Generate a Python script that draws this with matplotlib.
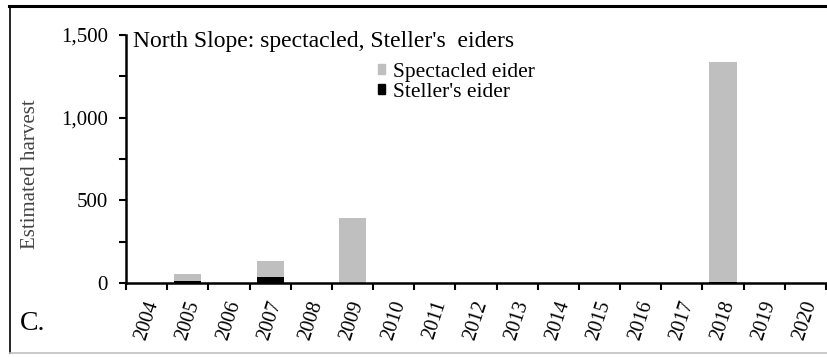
import matplotlib
matplotlib.use("Agg")
import matplotlib.pyplot as plt
import numpy as np
from matplotlib.ticker import FuncFormatter, MultipleLocator
from matplotlib.lines import Line2D

years = [str(y) for y in range(2004, 2021)]
stellers = [0, 14, 0, 38, 0, 0, 0, 0, 0, 0, 0, 0, 0, 0, 8, 0, 0]
spectacled = [0, 40, 0, 95, 0, 395, 0, 0, 0, 0, 0, 0, 0, 0, 1330, 0, 0]

plt.rcParams['font.family'] = ['Liberation Serif', 'DejaVu Serif']

fig = plt.figure(figsize=(8.27, 3.57), dpi=100)
W, H = 827, 357
ax = fig.add_axes([126 / W, 1 - 283 / H, 700 / W, 248 / H])

x = np.arange(len(years))
ax.bar(x, stellers, width=0.66, color='black', label="Steller's eider")
ax.bar(x, spectacled, width=0.66, bottom=stellers, color='#bfbfbf', label='Spectacled eider')

ax.set_xlim(-0.5, len(years) - 0.5)
ax.set_ylim(0, 1500)
ax.yaxis.set_major_locator(MultipleLocator(500))
ax.yaxis.set_minor_locator(MultipleLocator(250))
ax.yaxis.set_major_formatter(FuncFormatter(lambda v, p: f"{int(v):,}"))
ax.tick_params(axis='y', which='both', direction='out', length=5, width=1.5, labelsize=15, pad=8)
ax.set_xticks(x)
ax.set_xticklabels(years, rotation=72, fontsize=14.5, ha='center', va='top', rotation_mode='default')
ax.set_xticks(np.arange(-0.5, len(years), 1), minor=True)
ax.tick_params(axis='x', which='major', length=0, pad=11)
ax.tick_params(axis='x', which='minor', direction='out', length=5, width=1.5)

for s in ['top', 'right']:
    ax.spines[s].set_visible(False)
for s in ['left', 'bottom']:
    ax.spines[s].set_linewidth(1.8)

ax.set_ylabel('Estimated harvest', fontsize=15, color='#444444')
ax.yaxis.set_label_coords(-0.123, 0.44)

handles = [plt.Rectangle((0, 0), 1, 1, color='#bfbfbf'), plt.Rectangle((0, 0), 1, 1, color='black')]
fig.legend(handles, ['Spectacled eider', "Steller's eider"], loc='upper left',
           bbox_to_anchor=(378 / W, 1 - 63 / H), frameon=False, fontsize=15.5,
           handlelength=0.33, handleheight=0.33, handletextpad=0.35, labelspacing=0.05,
           borderpad=0, borderaxespad=0)

fig.text(133 / W, 1 - 47 / H, "North Slope: spectacled, Steller's  eiders", fontsize=17,
         ha='left', va='baseline')
fig.text(20 / W, 1 - 330 / H, 'C.', fontsize=20, ha='left', va='baseline')

# figure frame
fig.add_artist(Line2D([9 / W, 1], [1 - 6 / H, 1 - 6 / H], color='black', lw=2.2, transform=fig.transFigure))
fig.add_artist(Line2D([10 / W, 10 / W], [1 - 6 / H, 1 - 353 / H], color='black', lw=1.2, transform=fig.transFigure))
fig.add_artist(Line2D([10 / W, 1], [1 - 353 / H, 1 - 353 / H], color='#c0c0c0', lw=1.2, transform=fig.transFigure))

fig.savefig('out.png', dpi=100)
